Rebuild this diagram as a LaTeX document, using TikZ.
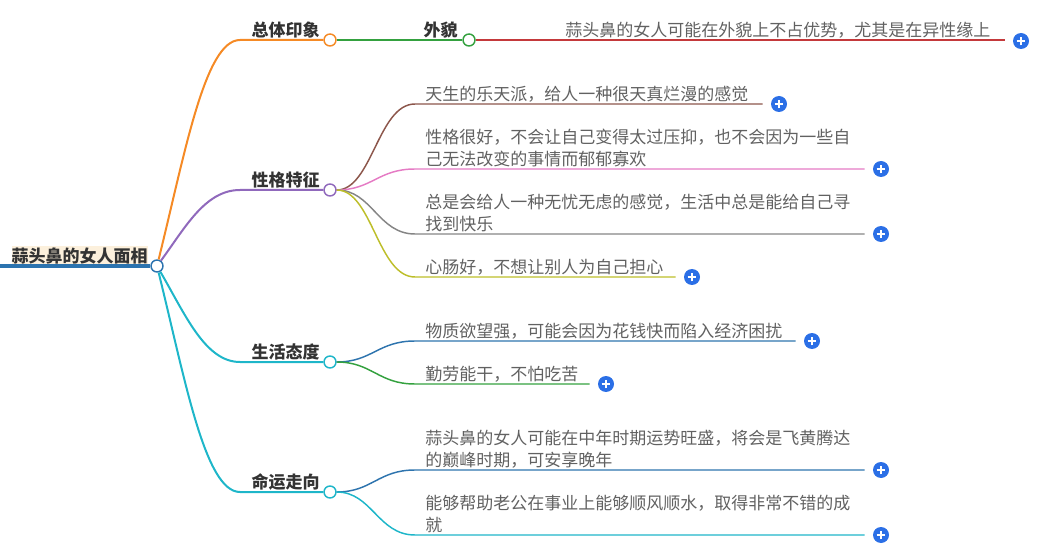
\documentclass[tikz,border=0pt]{standalone}
\usepackage{fontspec}
\setmainfont{Noto Sans CJK SC}
\usepackage{xcolor}
\usetikzlibrary{positioning,calc}
\definecolor{rootblue}{HTML}{2B73AF}
\definecolor{corange}{HTML}{F58A25}
\definecolor{cgreen}{HTML}{34A13F}
\definecolor{cred}{HTML}{C4393B}
\definecolor{cpurple}{HTML}{9069BC}
\definecolor{cbrown}{HTML}{8C564B}
\definecolor{cpink}{HTML}{E57BC4}
\definecolor{cgray}{HTML}{858585}
\definecolor{colive}{HTML}{BDBE2A}
\definecolor{ccyan}{HTML}{1EB6C9}
\definecolor{cblue}{HTML}{2E74AE}
\definecolor{btnblue}{HTML}{2B6FE6}
\definecolor{rootbg}{HTML}{FCF0DC}

\tikzset{
  knob/.style={circle, draw=#1, fill=white, line width=1.1pt, minimum size=9pt, inner sep=0pt},
  topic/.style={font=\bfseries\fontsize{12.75}{16}\selectfont, text=black!80, inner sep=0pt, anchor=base east},
  leaf/.style={font=\fontsize{12.75}{16.5}\selectfont, text=black!62, inner sep=0pt, align=left,
    text depth=0pt, anchor=south west},
  addbtn/.style={circle, fill=btnblue, minimum size=12pt, inner sep=0pt,
    path picture={
      \draw[white, line width=1.3pt] ([xshift=-3.3pt]path picture bounding box.center) -- ([xshift=3.3pt]path picture bounding box.center);
      \draw[white, line width=1.3pt] ([yshift=-3.3pt]path picture bounding box.center) -- ([yshift=3.3pt]path picture bounding box.center);
    }},
  branch/.style={draw=#1, line width=1.5pt},
  twig/.style={draw=#1, line width=1.1pt},
}

\begin{document}
\begin{tikzpicture}[x=0.75pt, y=-0.75pt]
  \useasboundingbox (0,0) rectangle (1047,549);

  % --- Root ---
  \coordinate (rootend) at (0,266);
  \node[topic, fill=rootbg, inner ysep=1.5pt] (root) at (148,262.5) {蒜头鼻的女人面相};
  \node[knob=rootblue] (rk) at (157,266) {};
  \draw[rootblue, line width=2.3pt] (rootend) -- (rk.west);

  % --- 总体印象 ---
  \node[knob=corange] (k1) at (330,40) {};
  \node[topic] (t1) at (320,36.5) {总体印象};
  \draw[branch=corange] (rk) .. controls (185,153) and (205,40) .. (240,40) -- (k1);
  \node[knob=cgreen] (k11) at (469,40) {};
  \node[topic] (t11) at (458,36.5) {外貌};
  \draw[twig=cgreen] (k1) -- (k11);
  \node[leaf] (l111) at (565,36.5) {蒜头鼻的女人可能在外貌上不占优势，尤其是在异性缘上};
  \node[addbtn] (p111) at (1021,41) {};
  \draw[twig=cred] (k11) -- ([xshift=-6pt]p111.west |- k11);

  % --- 性格特征 ---
  \node[knob=cpurple] (k2) at (330,190) {};
  \node[topic] (t2) at (320,186.5) {性格特征};
  \draw[branch=cpurple] (rk) .. controls (185,228) and (205,190) .. (240,190) -- (k2);

  \node[leaf] (l21) at (425,100.5) {天生的乐天派，给人一种很天真烂漫的感觉};
  \node[addbtn] (p21) at (779,104) {};
  \draw[twig=cbrown] (k2) .. controls (372,190) and (378,104) .. (415,104) -- ([xshift=-6pt]p21.west);

  \node[leaf] (l22) at (425,165.5) {性格很好，不会让自己变得太过压抑，也不会因为一些自\\己无法改变的事情而郁郁寡欢};
  \node[addbtn] (p22) at (881,169) {};
  \draw[twig=cpink] (k2) .. controls (372,190) and (378,169) .. (415,169) -- ([xshift=-6pt]p22.west);

  \node[leaf] (l23) at (425,230.5) {总是会给人一种无忧无虑的感觉，生活中总是能给自己寻\\找到快乐};
  \node[addbtn] (p23) at (881,234) {};
  \draw[twig=cgray] (k2) .. controls (372,190) and (378,234) .. (415,234) -- ([xshift=-6pt]p23.west);

  \node[leaf] (l24) at (425,273.5) {心肠好，不想让别人为自己担心};
  \node[addbtn] (p24) at (692,277) {};
  \draw[twig=colive] (k2) .. controls (372,190) and (378,277) .. (415,277) -- ([xshift=-6pt]p24.west);

  % --- 生活态度 ---
  \node[knob=ccyan] (k3) at (330,362) {};
  \node[topic] (t3) at (320,358.5) {生活态度};
  \draw[branch=ccyan] (rk) .. controls (185,314) and (205,362) .. (240,362) -- (k3);

  \node[leaf] (l31) at (425,337.5) {物质欲望强，可能会因为花钱快而陷入经济困扰};
  \node[addbtn] (p31) at (812,341) {};
  \draw[twig=cblue] (k3) .. controls (372,362) and (378,341) .. (415,341) -- ([xshift=-6pt]p31.west);

  \node[leaf] (l32) at (425,380.5) {勤劳能干，不怕吃苦};
  \node[addbtn] (p32) at (606,384) {};
  \draw[twig=cgreen] (k3) .. controls (372,362) and (378,384) .. (415,384) -- ([xshift=-6pt]p32.west);

  % --- 命运走向 ---
  \node[knob=ccyan] (k4) at (330,492) {};
  \node[topic] (t4) at (320,488.5) {命运走向};
  \draw[branch=ccyan] (rk) .. controls (185,379) and (205,492) .. (240,492) -- (k4);

  \node[leaf] (l41) at (425,466.5) {蒜头鼻的女人可能在中年时期运势旺盛，将会是飞黄腾达\\的巅峰时期，可安享晚年};
  \node[addbtn] (p41) at (881,470) {};
  \draw[twig=cblue] (k4) .. controls (372,492) and (378,470) .. (415,470) -- ([xshift=-6pt]p41.west);

  \node[leaf] (l42) at (425,531.5) {能够帮助老公在事业上能够顺风顺水，取得非常不错的成\\就};
  \node[addbtn] (p42) at (881,535) {};
  \draw[twig=ccyan] (k4) .. controls (372,492) and (378,535) .. (415,535) -- ([xshift=-6pt]p42.west);
\end{tikzpicture}
\end{document}
